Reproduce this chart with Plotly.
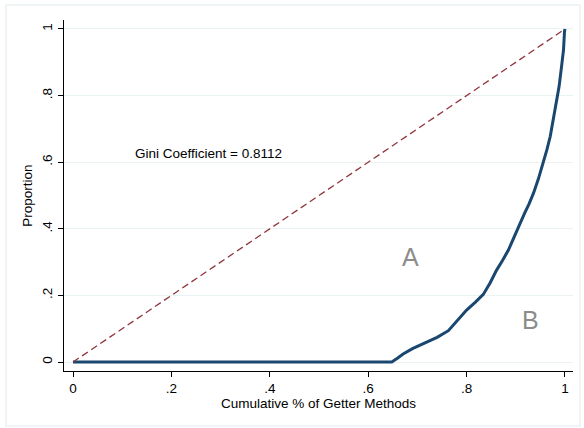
import plotly.graph_objects as go

# Lorenz curve
lorenz_x = [0, 0.648, 0.660, 0.671, 0.690, 0.712, 0.740, 0.763, 0.780, 0.800,
            0.818, 0.834, 0.848, 0.861, 0.873, 0.885, 0.895, 0.905, 0.918,
            0.927, 0.936, 0.946, 0.956, 0.963, 0.970, 0.975, 0.980, 0.984,
            0.988, 0.993, 0.997, 0.999, 1.0]
lorenz_y = [0, 0, 0.012, 0.024, 0.040, 0.056, 0.074, 0.094, 0.122, 0.156,
            0.180, 0.203, 0.238, 0.276, 0.305, 0.336, 0.370, 0.406, 0.447,
            0.475, 0.507, 0.550, 0.597, 0.636, 0.677, 0.716, 0.757, 0.790,
            0.827, 0.887, 0.937, 0.992, 1.0]

equality_x = [0, 1]
equality_y = [0, 1]

tick_vals = [0, 0.2, 0.4, 0.6, 0.8, 1]
tick_text = ["0", ".2", ".4", ".6", ".8", "1"]

gini_label = "Gini Coefficient = 0.8112"
x_title = "Cumulative % of Getter Methods"
y_title = "Proportion"

FONT = "Liberation Sans, Arial, Helvetica, sans-serif"
GRID = "#eaf2f3"
FS = 13.5

fig = go.Figure()
fig.add_trace(go.Scatter(x=lorenz_x, y=lorenz_y, mode="lines",
                         line=dict(color="#1a476f", width=3), hoverinfo="skip"))
fig.add_trace(go.Scatter(x=equality_x, y=equality_y, mode="lines",
                         line=dict(color="#90353b", width=1.3, dash="7px,4px"),
                         hoverinfo="skip"))

fig.add_annotation(x=0.122, y=0.625, text=gini_label, showarrow=False,
                   xanchor="left", yanchor="middle",
                   font=dict(family=FONT, size=FS, color="#000000"))
fig.add_annotation(x=0.687, y=0.315, text="A", showarrow=False,
                   font=dict(family=FONT, size=25, color="#8c8c8c"))
fig.add_annotation(x=0.929, y=0.126, text="B", showarrow=False,
                   font=dict(family=FONT, size=25, color="#8c8c8c"))

# outer light frame
fig.add_shape(type="rect", xref="paper", yref="paper",
              x0=-58 / 509, x1=(580 - 64) / 509,
              y0=-(426 - 371) / 351, y1=(371 - 5) / 351,
              line=dict(color=GRID, width=1.5), fillcolor="rgba(0,0,0,0)",
              layer="below")

fig.update_layout(
    width=584, height=428,
    margin=dict(l=64, r=11, t=20, b=57),
    paper_bgcolor="white", plot_bgcolor="white",
    showlegend=False,
    font=dict(family=FONT, size=FS, color="#000000"),
    xaxis=dict(range=[-0.0183, 1.0163], tickvals=tick_vals, ticktext=tick_text,
               showgrid=False, zeroline=False, showline=True, linecolor="#000000",
               linewidth=1.3, ticks="outside", ticklen=5, tickcolor="#000000",
               tickfont=dict(size=FS),
               title=dict(text=x_title, font=dict(size=FS), standoff=3)),
    yaxis=dict(range=[-0.027, 1.027], tickvals=tick_vals, ticktext=tick_text,
               showgrid=True, gridcolor=GRID, gridwidth=1.2,
               zeroline=False, showline=True, linecolor="#000000",
               linewidth=1.3, ticks="outside", ticklen=5, tickcolor="#000000",
               tickangle=-90, tickfont=dict(size=FS),
               title=dict(text=y_title, font=dict(size=FS), standoff=4)),
)

fig.write_html("out.html")
